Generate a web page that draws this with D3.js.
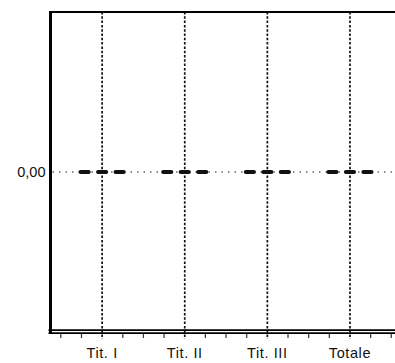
<!DOCTYPE html>
<html>
<head>
<meta charset="utf-8">
<script src="https://cdn.jsdelivr.net/npm/d3@7/dist/d3.min.js"></script>
<style>
  html, body { margin: 0; padding: 0; background: #fff; }
  svg { display: block; }
  text { font-family: "Liberation Sans", Arial, sans-serif; fill: #111; }
</style>
</head>
<body>
<svg id="chart" width="395" height="363"></svg>
<script>
// Categories along the x axis
const categories = ["Tit. I", "Tit. II", "Tit. III", "Totale"];
// Three series per category (all values are zero)
const seriesNames = ["A", "B", "C"];
const serieA = [0, 0, 0, 0];
const serieB = [0, 0, 0, 0];
const serieC = [0, 0, 0, 0];
// Y axis tick values and their labels
const yTickValues = [0];
const yTickLabels = ["0,00"];

(function () {
  const W = 395;
  const plotLeft = 50.5, plotTop = 12, plotBottom = 332;
  const barW = 8;

  const svg = d3.select("#chart");

  // x: continuous index scale, categories at integer positions
  const x = d3.scaleLinear().domain([-0.625, 3.545]).range([plotLeft, W]);
  const y = d3.scaleLinear().domain([-1, 1]).range([plotBottom, plotTop]);
  const offset = d3.scalePoint().domain(seriesNames).range([-17.5, 17.5]);

  const series = [serieA, serieB, serieC];

  // horizontal gridline at each y tick
  svg.append("g").selectAll("line").data(yTickValues).join("line")
    .attr("x1", plotLeft + 2).attr("x2", W)
    .attr("y1", d => y(d)).attr("y2", d => y(d))
    .attr("stroke", "#666").attr("stroke-width", 1.3)
    .attr("stroke-dasharray", "1.5,5");

  // vertical gridlines at categories
  svg.append("g").selectAll("line").data(categories).join("line")
    .attr("x1", (d, i) => x(i)).attr("x2", (d, i) => x(i))
    .attr("y1", plotTop).attr("y2", plotBottom + 7)
    .attr("stroke", "#111").attr("stroke-width", 1.7)
    .attr("stroke-dasharray", "2.5,1.8");

  // bars as outlined paths so that zero-height bars still show their outline
  const bars = svg.append("g");
  series.forEach((vals, s) => {
    bars.selectAll(null).data(vals).join("path")
      .attr("d", (d, i) => {
        const x0 = x(i) + offset(seriesNames[s]) - barW / 2;
        const p = d3.path();
        p.moveTo(x0, y(0));
        p.lineTo(x0 + barW, y(0));
        p.lineTo(x0 + barW, y(d));
        p.lineTo(x0, y(d));
        p.closePath();
        return p.toString();
      })
      .attr("fill", "#111")
      .attr("stroke", "#111").attr("stroke-width", 4.2)
      .attr("stroke-linecap", "round")
      .attr("stroke-linejoin", "round");
  });

  // minor ticks along the bottom axis (quarter category steps)
  const minor = d3.range(-2, 15).map(k => k / 4)
    .filter(v => !Number.isInteger(v) && x(v) > plotLeft + 2 && x(v) < W);
  svg.append("g").selectAll("line").data(minor).join("line")
    .attr("x1", d => x(d)).attr("x2", d => x(d))
    .attr("y1", plotBottom + 2).attr("y2", plotBottom + 6)
    .attr("stroke", "#333").attr("stroke-width", 1.2);

  // frame: top line, left axis, double bottom axis
  svg.append("line").attr("x1", plotLeft - 1).attr("x2", W).attr("y1", plotTop).attr("y2", plotTop)
    .attr("stroke", "#000").attr("stroke-width", 1.8);
  svg.append("line").attr("x1", plotLeft).attr("x2", plotLeft).attr("y1", plotTop - 1).attr("y2", plotBottom + 2)
    .attr("stroke", "#000").attr("stroke-width", 3);
  svg.append("line").attr("x1", plotLeft - 2).attr("x2", W).attr("y1", plotBottom - 1.8).attr("y2", plotBottom - 1.8)
    .attr("stroke", "#000").attr("stroke-width", 1.7);
  svg.append("line").attr("x1", plotLeft - 2).attr("x2", W).attr("y1", plotBottom + 1.2).attr("y2", plotBottom + 1.2)
    .attr("stroke", "#000").attr("stroke-width", 1.7);

  // y tick labels
  svg.append("g").selectAll("text").data(yTickValues).join("text")
    .attr("x", plotLeft - 5).attr("y", d => y(d) + 5)
    .attr("text-anchor", "end").attr("font-size", 14.5)
    .text((d, i) => yTickLabels[i]);

  // category labels
  svg.append("g").selectAll("text").data(categories).join("text")
    .attr("x", (d, i) => x(i)).attr("y", 358)
    .attr("text-anchor", "middle").attr("font-size", 14.5)
    .attr("letter-spacing", 0.6)
    .text(d => d);
})();
</script>
</body>
</html>
